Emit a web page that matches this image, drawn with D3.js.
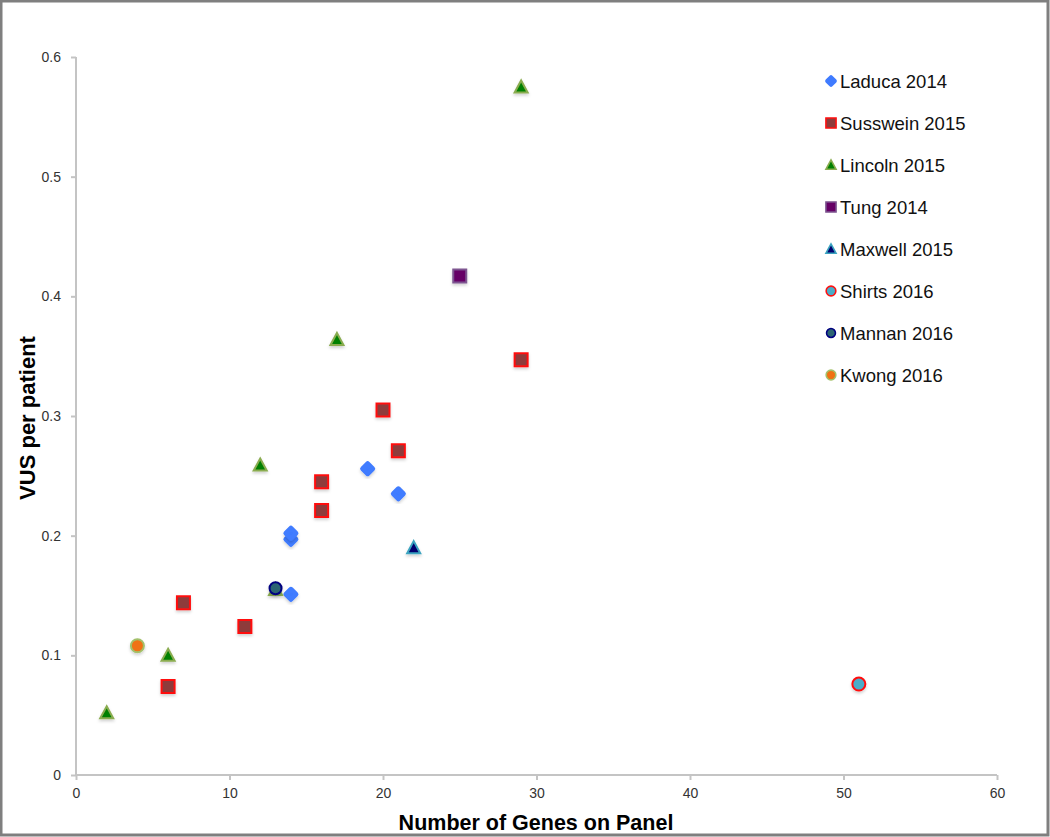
<!DOCTYPE html>
<html><head><meta charset="utf-8">
<script src="https://cdn.jsdelivr.net/npm/d3@7"></script>
<style>
html,body{margin:0;padding:0;background:#fff;}
svg{display:block;font-family:"Liberation Sans",Arial,Helvetica,sans-serif;}
</style></head>
<body>
<svg id="chart" width="1050" height="837"></svg>
<script>
const xTicks = [0, 10, 20, 30, 40, 50, 60];
const yTicks = [0, 0.1, 0.2, 0.3, 0.4, 0.5, 0.6];
const yTickLabels = ["0", "0.1", "0.2", "0.3", "0.4", "0.5", "0.6"];

const seriesNames = ["Laduca 2014", "Susswein 2015", "Lincoln 2015", "Tung 2014", "Maxwell 2015", "Shirts 2016", "Mannan 2016", "Kwong 2016"];

const laduca   = [[14, 0.151], [14, 0.197], [14, 0.202], [19, 0.256], [21, 0.235]];
const susswein = [[6, 0.074], [7, 0.144], [11, 0.124], [16, 0.221], [16, 0.245], [20, 0.305], [21, 0.271], [29, 0.347]];
const lincoln  = [[2, 0.052], [6, 0.100], [12, 0.259], [13, 0.155], [17, 0.364], [29, 0.575]];
const tung     = [[25, 0.417]];
const maxwell  = [[22, 0.190]];
const shirts   = [[51, 0.076]];
const mannan   = [[13, 0.156]];
const kwong    = [[4, 0.108]];

const seriesData = [laduca, susswein, lincoln, tung, maxwell, shirts, mannan, kwong];

const styles = [
  {shape: "diamond",  fill: "#3f7bff", stroke: "#3f7bff", size: 10},
  {shape: "square",   fill: "#8e3b3b", stroke: "#ff1010", size: 15},
  {shape: "triangle", fill: "#008000", stroke: "#8aac50", size: 15},
  {shape: "square",   fill: "#660066", stroke: "#7d5590", size: 15},
  {shape: "triangle", fill: "#00006e", stroke: "#3aa3bf", size: 15},
  {shape: "circle",   fill: "#4badc8", stroke: "#ff1010", size: 15},
  {shape: "circle",   fill: "#2c6472", stroke: "#000080", size: 14},
  {shape: "circle",   fill: "#f07212", stroke: "#a3c06a", size: 15}
];

const svg = d3.select("#chart");
const W = 1050, H = 837;

// outer frame
svg.append("rect").attr("x", 1).attr("y", 1).attr("width", W - 3).attr("height", H - 3)
  .attr("fill", "#fff").attr("stroke", "#7f7f7f").attr("stroke-width", 3);

const x = d3.scaleLinear().domain([0, 60]).range([76, 997]);
const y = d3.scaleLinear().domain([0, 0.6]).range([775, 57]);

const axisColor = "#c4c4c4";

// X axis
const gx = svg.append("g").attr("transform", `translate(0,${y(0)})`)
  .call(d3.axisBottom(x).tickValues(xTicks).tickSize(5).tickPadding(8).tickFormat(d3.format("d")));
gx.select(".domain").attr("stroke", axisColor).attr("stroke-width", 2).attr("d", `M${x(0)},0H${x(60)}`);
gx.selectAll(".tick line").attr("stroke", axisColor).attr("stroke-width", 2);
gx.selectAll(".tick text").attr("fill", "#333").attr("font-size", 14);

// Y axis
const gy = svg.append("g").attr("transform", `translate(${x(0)},0)`)
  .call(d3.axisLeft(y).tickValues(yTicks).tickSize(5).tickPadding(10).tickFormat((d, i) => yTickLabels[i]));
gy.select(".domain").attr("stroke", axisColor).attr("stroke-width", 2).attr("d", `M0,${y(0)}V${y(0.6)}`);
gy.selectAll(".tick line").attr("stroke", axisColor).attr("stroke-width", 2);
gy.selectAll(".tick text").attr("fill", "#333").attr("font-size", 14);

// axis titles
svg.append("text").attr("x", 536).attr("y", 830).attr("text-anchor", "middle")
  .attr("font-size", 21.5).attr("font-weight", "bold").attr("fill", "#000")
  .text("Number of Genes on Panel");
svg.append("text").attr("transform", "translate(35,418) rotate(-90)").attr("text-anchor", "middle")
  .attr("font-size", 22).attr("font-weight", "bold").attr("fill", "#000")
  .text("VUS per patient");

// shadow filter
const defs = svg.append("defs");
const f = defs.append("filter").attr("id", "shadow").attr("x", "-50%").attr("y", "-50%").attr("width", "200%").attr("height", "200%");
f.append("feDropShadow").attr("dx", 0).attr("dy", 2).attr("stdDeviation", 1.5).attr("flood-color", "#000").attr("flood-opacity", 0.18);

function markerPath(shape, s) {
  const h = s / 2;
  if (shape === "square") return `M${-h},${-h}H${h}V${h}H${-h}Z`;
  if (shape === "triangle") return `M0,${-h}L${h},${h * 0.85}L${-h},${h * 0.85}Z`;
  if (shape === "diamond") return `M0,${-h}L${h},0L0,${h}L${-h},0Z`;
  return null;
}

function drawMarker(g, st, scale) {
  const s = st.size * scale;
  if (st.shape === "circle") {
    g.append("circle").attr("r", s / 2 - 1).attr("fill", st.fill).attr("stroke", st.stroke).attr("stroke-width", 2 * scale);
  } else if (st.shape === "diamond") {
    g.append("path").attr("d", markerPath("diamond", s)).attr("fill", st.fill)
      .attr("stroke", st.stroke).attr("stroke-width", 5 * scale).attr("stroke-linejoin", "round");
  } else {
    g.append("path").attr("d", markerPath(st.shape, s - 2 * scale)).attr("fill", st.fill)
      .attr("stroke", st.stroke).attr("stroke-width", 2 * scale);
  }
}

// points
const plot = svg.append("g");
seriesData.forEach((data, i) => {
  const st = styles[i];
  data.forEach(d => {
    const g = plot.append("g").attr("transform", `translate(${x(d[0])},${y(d[1])})`).attr("filter", "url(#shadow)");
    drawMarker(g, st, 1);
  });
});

// legend
const legend = svg.append("g");
seriesNames.forEach((name, i) => {
  const yy = 81 + i * 42;
  const g = legend.append("g").attr("transform", `translate(831,${yy})`);
  drawMarker(g, styles[i], 0.78);
  legend.append("text").attr("x", 840).attr("y", yy + 7).attr("font-size", 18.5).attr("fill", "#111").text(name);
});
</script>
</body></html>
